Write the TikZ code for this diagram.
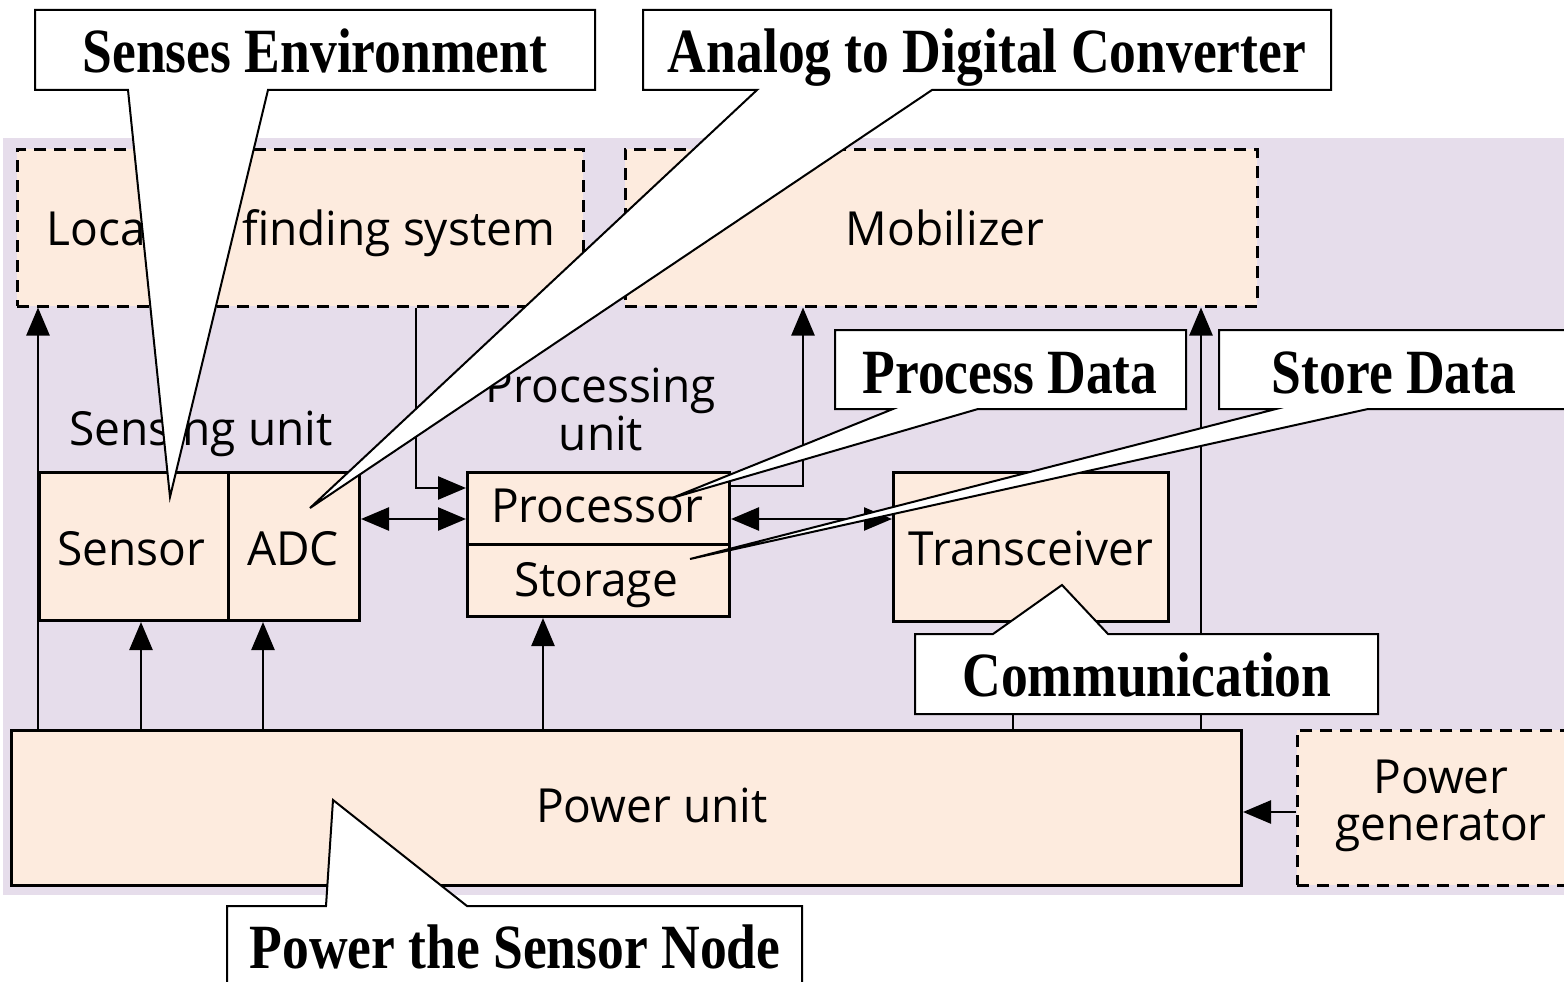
\documentclass[tikz,border=0pt]{standalone}
\usepackage{fontspec}
\setmainfont{Open Sans}
\newfontfamily\boxfont[FakeStretch=0.98]{Open Sans}
\newfontfamily\notefont[FakeStretch=0.85]{Liberation Serif}
\usetikzlibrary{arrows.meta}
\definecolor{panel}{RGB}{230,221,235}
\definecolor{unitfill}{RGB}{253,235,222}

\tikzset{
  unit/.style={draw, line width=3pt, fill=unitfill, inner sep=0pt, anchor=north west},
  optunit/.style={unit, line width=2.5pt, dash pattern=on 12pt off 8pt},
  lbl/.style={font=\boxfont\fontsize{47}{50}\selectfont, inner sep=0pt, anchor=base},
  wire/.style={line width=2.5pt},
  tip/.tip={Triangle[length=28pt,width=23pt]},
  feed/.style={wire, -tip},
  twoway/.style={wire, tip-tip},
  callshape/.style={draw, fill=white, line width=2pt, line join=miter},
  calltext/.style={font=\notefont\bfseries\fontsize{63}{70}\selectfont, inner sep=0pt, anchor=base}
}

\begin{document}
\begin{tikzpicture}[x=1pt, y=-1pt]
\clip (0,0) rectangle (1564,982);

% node housing
\fill[panel] (3,138) rectangle (1580,895);

% optional units
\node[optunit, minimum width=566pt, minimum height=157pt] (lfs) at (16,148) {};
\node[optunit, minimum width=632pt, minimum height=157pt] (mob) at (624,148) {};
\node[optunit, minimum width=290pt, minimum height=155pt] (gen) at (1296,729) {};

% core units
\node[unit, minimum width=189pt, minimum height=148pt] (sensor) at (38,471) {};
\node[unit, minimum width=131pt, minimum height=148pt] (adc) at (227,471) {};
\node[unit, minimum width=262pt, minimum height=72pt] (proc) at (466,471) {};
\node[unit, minimum width=262pt, minimum height=72pt] (store) at (466,543) {};
\node[unit, minimum width=275pt, minimum height=149pt] (trx) at (892,471) {};
\node[unit, minimum width=1230pt, minimum height=155pt] (power) at (10,729) {};

% labels
\node[lbl] (lfslbl) at (301,245) {Location finding system};
\node[lbl] (moblbl) at (945,245) {Mobilizer};
\node[lbl] (senselbl) at (201,445) {Sensing unit};
\node[lbl] (proclbl1) at (601,402) {Processing};
\node[lbl] (proclbl2) at (601,450) {unit};
\node[lbl] (sensorlbl) at (131,565) {Sensor};
\node[lbl] (adclbl) at (293,565) {ADC};
\node[lbl] (proclbl) at (597,522) {Processor};
\node[lbl] (storelbl) at (596,596) {Storage};
\node[lbl] (trxlbl) at (1031,565) {Transceiver};
\node[lbl] (powerlbl) at (652,822) {Power unit};
\node[lbl] (genlbl1) at (1441,793) {Power};
\node[lbl] (genlbl2) at (1441,840) {generator};

% power distribution
\draw[feed] (power.north west -| sensor.west) -- (lfs.south west -| sensor.west);
\draw[feed] (power.north -| 141,0) -- (sensor.south -| 141,0);
\draw[feed] (power.north -| 263,0) -- (adc.south -| 263,0);
\draw[feed] (power.north -| 543,0) -- (store.south -| 543,0);
\draw[feed] (power.north -| 1013,0) -- (trx.south -| 1013,0);
\draw[feed] (power.north east -| 1201,0) -- (mob.south -| 1201,0);
\draw[feed] (gen.west |- 0,812) -- (power.east |- 0,812);

% data paths
\draw[twoway] (adc.east |- 0,519) -- (proc.west |- 0,519);
\draw[twoway] (proc.east |- 0,519) -- (trx.west |- 0,519);
\draw[feed] (lfs.south -| 416,0) |- (proc.west |- 0,488);
\draw[feed] (proc.east |- 0,486) -| (mob.south -| 803,0);

% callouts
\path[callshape] (35,10) -- (595,10) -- (595,90) -- (268,90) -- (170,497) -- (128,90) -- (35,90) -- cycle;
\node[calltext] (nsense) at (315,73) {Senses Environment};

\path[callshape] (643,10) -- (1331,10) -- (1331,90) -- (932,90) -- (310,508) -- (757,90) -- (643,90) -- cycle;
\node[calltext] (nadc) at (987,73) {Analog to Digital Converter};

\path[callshape] (835,330) -- (1186,330) -- (1186,409) -- (978,409) -- (672,498) -- (893,409) -- (835,409) -- cycle;
\node[calltext] (nproc) at (1010,393) {Process Data};

\path[callshape] (1219,330) -- (1580,330) -- (1580,409) -- (1368,409) -- (690,559) -- (1276,409) -- (1219,409) -- cycle;
\node[calltext] (nstore) at (1394,393) {Store Data};

\path[callshape] (915,634) -- (993,634) -- (1062,585) -- (1108,634) -- (1378,634) -- (1378,714) -- (915,714) -- cycle;
\node[calltext] (ncomm) at (1147,696) {Communication};

\path[callshape] (227,906) -- (326,906) -- (333,800) -- (467,906) -- (802,906) -- (802,1000) -- (227,1000) -- cycle;
\node[calltext] (npower) at (515,968) {Power the Sensor Node};
\end{tikzpicture}
\end{document}
